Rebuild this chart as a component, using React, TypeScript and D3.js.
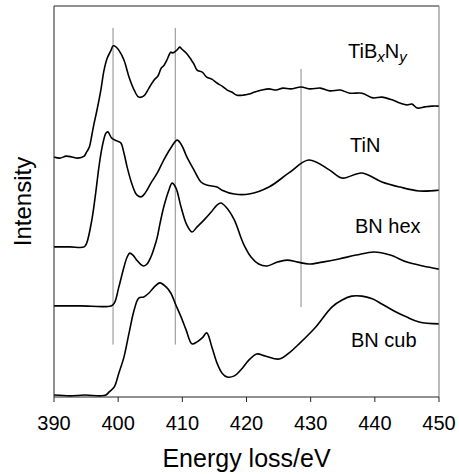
import React from "react";
import * as d3 from "d3";

// Energy loss (eV) and intensity (arbitrary units, stacked) for each spectrum
const tibnE = [390.0,390.9,391.9,392.8,393.7,394.7,395.0,395.5,395.9,396.2,396.7,397.3,397.8,398.3,398.9,399.2,399.7,400.1,400.9,401.7,402.5,403.2,404.0,404.8,405.6,406.2,406.7,407.1,407.6,408.2,408.5,409.0,409.3,409.6,409.9,410.6,411.4,411.8,412.3,413.1,413.8,414.6,415.4,416.2,417.0,417.7,418.5,419.5,420.4,421.3,422.4,423.5,424.6,425.7,426.9,428.5,429.9,431.5,433.0,434.6,436.1,438.0,439.7,441.1,442.7,443.9,445.0,445.8,446.6,447.8,448.9,450.0];
const tibnI = [61.4,61.1,61.6,61.4,61.1,61.6,62.4,63.9,67.0,69.6,73.4,78.5,83.6,86.7,88.7,89.8,89.5,88.7,86.2,81.8,78.5,76.7,77.0,79.0,81.1,82.1,84.1,84.7,86.2,88.2,88.0,88.5,89.0,89.5,89.0,88.0,86.2,85.2,83.6,83.1,81.8,81.3,80.3,79.5,78.5,78.0,77.2,77.2,77.5,78.0,78.5,78.8,78.5,79.0,78.8,79.3,78.8,79.0,78.3,78.5,77.7,77.7,76.5,76.7,76.0,75.2,74.7,74.9,73.9,74.2,74.4,74.4];

const tinE = [390.0,392.5,394.7,395.1,395.9,396.5,397.0,397.5,398.1,398.4,399.0,399.8,400.4,400.9,401.4,402.2,402.9,403.6,404.3,405.1,406.1,407.1,408.2,409.2,409.9,410.7,411.8,412.9,413.8,415.4,416.2,418.1,420.4,423.5,426.6,429.7,432.9,434.9,438.0,441.1,443.9,446.9,450.0];
const tinI = [38.4,38.4,38.4,39.4,45.3,52.2,58.8,63.9,67.5,67.8,66.2,65.5,65.0,62.4,58.8,54.2,51.7,51.2,52.4,54.7,57.3,60.6,63.7,65.7,64.4,61.4,58.1,55.0,54.2,53.7,52.9,51.9,51.9,53.7,57.3,60.6,58.1,56.0,57.3,55.0,53.7,52.7,52.9];

const bnhE = [390.0,394.1,398.9,399.4,400.1,400.9,401.4,401.8,402.3,402.9,403.6,404.0,404.5,405.1,405.6,406.1,406.5,407.1,407.9,408.4,409.0,409.8,410.7,411.5,412.3,413.4,414.5,415.4,416.0,416.8,418.1,419.1,419.6,420.7,421.9,423.2,424.8,426.3,428.0,429.7,431.8,434.4,437.1,439.9,442.4,445.0,447.5,450.0];
const bnhI = [23.3,23.3,23.3,24.0,28.1,33.2,35.8,36.8,36.3,35.0,33.8,33.5,34.0,35.8,38.1,40.9,44.2,48.6,52.9,54.7,53.5,48.6,44.0,42.2,43.5,45.3,47.3,49.1,49.6,48.6,45.3,40.9,38.9,35.8,34.0,33.5,34.5,35.0,34.5,34.0,34.5,35.3,36.3,37.1,36.3,34.5,33.5,32.7];

const bncE = [390.0,392.5,394.8,397.2,398.1,398.6,399.4,400.1,400.9,401.7,402.5,403.2,404.0,404.8,405.6,406.5,407.5,408.2,409.0,409.8,410.6,411.5,412.3,413.1,413.8,414.6,415.4,416.2,417.0,418.1,419.1,420.4,421.6,422.9,425.1,426.8,428.2,430.8,433.3,434.9,436.4,438.0,439.6,441.1,443.0,444.9,446.9,450.0];
const bncI = [0.5,0.3,0.5,0.3,0.5,1.3,2.6,6.1,10.2,16.4,22.3,25.3,25.6,26.6,28.1,29.2,28.1,26.6,23.5,20.5,17.1,13.6,14.1,15.1,16.4,12.8,8.7,6.1,5.1,5.4,6.9,9.5,11.0,10.5,9.7,11.5,13.6,17.9,23.0,24.8,25.8,25.8,25.1,23.8,22.0,20.5,19.2,18.7];

// reference lines: energy, lower and upper intensity
const refE = [399.2, 408.9, 428.5];
const refLo = [13.4, 13.4, 23.0];
const refHi = [94.4, 94.4, 83.9];

const xTicks = [390, 400, 410, 420, 430, 440, 450];
const xDomain = [390, 450];
const yDomain = [0, 100];

const FONT = "'Liberation Sans', Arial, Helvetica, sans-serif";

export default function App() {
  const W = 459, H = 474;
  const left = 54, right = 439, top = 6, bottom = 397;
  const x = d3.scaleLinear().domain(xDomain).range([left, right]);
  const y = d3.scaleLinear().domain(yDomain).range([bottom, top]);
  const line = d3
    .line<[number, number]>()
    .x((d) => x(d[0]))
    .y((d) => y(d[1]))
    .curve(d3.curveCatmullRom.alpha(0.5));
  const series = [
    [tibnE, tibnI],
    [tinE, tinI],
    [bnhE, bnhI],
    [bncE, bncI],
  ];
  return (
    <svg
      width={W}
      height={H}
      style={{ position: "absolute", left: 0, top: 0, background: "#fff" }}
      fontFamily={FONT}
    >
      <rect x={0} y={0} width={W} height={H} fill="#fff" />
      {refE.map((e, i) => (
        <line
          key={"r" + i}
          x1={x(e)}
          x2={x(e)}
          y1={y(refLo[i])}
          y2={y(refHi[i])}
          stroke="#8a8a8a"
          strokeWidth={1}
        />
      ))}
      {series.map(([es, is], i) => (
        <path
          key={"s" + i}
          d={line(es.map((e, j) => [e, is[j]] as [number, number])) || ""}
          fill="none"
          stroke="#000"
          strokeWidth={1.6}
          strokeLinejoin="round"
        />
      ))}
      <line x1={left} x2={right} y1={top} y2={top} stroke="#222" strokeWidth={1} />
      <line x1={right} x2={right} y1={top} y2={bottom} stroke="#777" strokeWidth={1} />
      <line x1={left} x2={left} y1={top} y2={bottom} stroke="#222" strokeWidth={1} />
      <line x1={left} x2={right} y1={bottom} y2={bottom} stroke="#222" strokeWidth={1} />
      {xTicks.map((t) => (
        <g key={"t" + t}>
          <line x1={x(t)} x2={x(t)} y1={bottom} y2={bottom + 5} stroke="#222" strokeWidth={1} />
          <text x={x(t)} y={430} textAnchor="middle" fontSize={20} fill="#000">
            {t}
          </text>
        </g>
      ))}
      <text x={(left + right) / 2} y={467} textAnchor="middle" fontSize={25} fill="#000">
        Energy loss/eV
      </text>
      <text
        transform={`translate(31,${(top + bottom) / 2}) rotate(-90)`}
        textAnchor="middle"
        fontSize={24}
        fill="#000"
      >
        Intensity
      </text>
      <text x={348} y={58} fontSize={20} fill="#000">
        TiB
        <tspan fontSize={15} fontStyle="italic" dy={4}>x</tspan>
        <tspan dy={-4}>N</tspan>
        <tspan fontSize={15} fontStyle="italic" dy={4}>y</tspan>
      </text>
      <text x={350} y={152} fontSize={20} fill="#000">TiN</text>
      <text x={355} y={233} fontSize={20} fill="#000">BN hex</text>
      <text x={351} y={347} fontSize={20} fill="#000">BN cub</text>
    </svg>
  );
}
